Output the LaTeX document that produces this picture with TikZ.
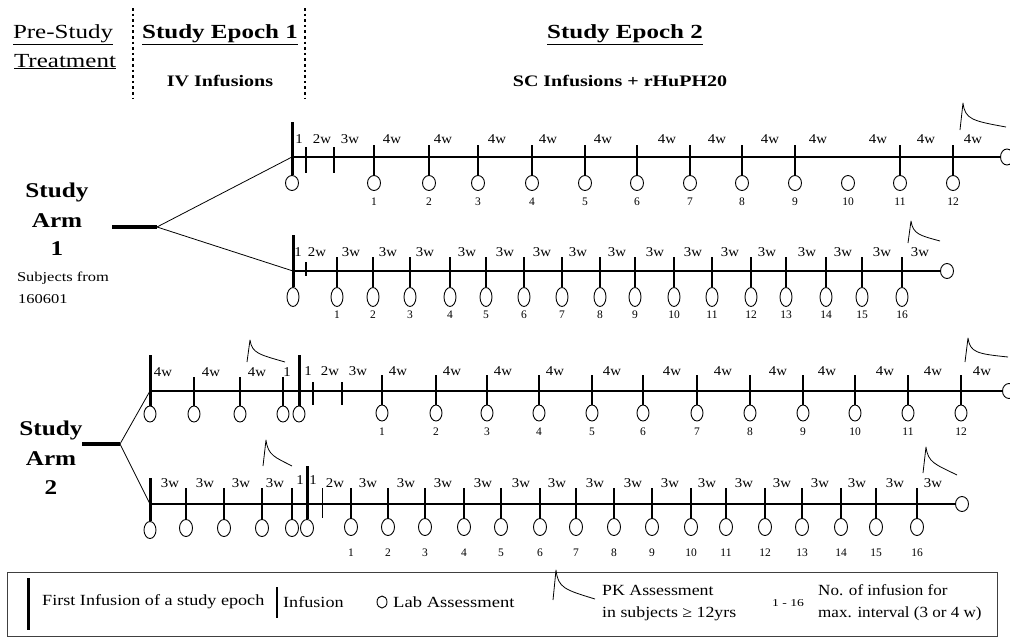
\documentclass[tikz,border=0pt]{standalone}
\usepackage{fontspec}
\usepackage{graphicx}
\setmainfont{Liberation Serif}
\usetikzlibrary{shapes.geometric}

% font size helper and horizontal widening of text
\newcommand{\setfs}[1]{\fontsize{#1}{#1}\selectfont}
\newcommand{\widen}[2][1.2]{\scalebox{#1}[1]{#2}}

% PK profile: foot (x,y), peak height h, tail end (xe,ye)
\newcommand{\pkcurve}[5]{%
  \draw[pk] (#1,#2) -- ({#1+3},{#2-#3})
    .. controls ({#1+5},{#2-0.4*#3}) and ({#1+12},{#2-0.34*#3}) .. (#4,#5);}

\tikzset{
  lab/.style={draw, ellipse, line width=0.9pt, inner sep=0pt,
              minimum width=12pt, minimum height=15pt},
  tick/.style={line width=1.2pt},
  firstinf/.style={line width=3pt},
  axis/.style={line width=2pt},
  thinaxis/.style={line width=1.1pt},
  branch/.style={line width=0.8pt},
  armbar/.style={line width=4.5pt},
  pk/.style={line width=0.8pt, line join=round},
  wk/.style={inner sep=0pt, font=\setfs{13.5}},
  num/.style={inner sep=0pt, font=\setfs{11.5}},
  epochsep/.style={line width=2.6pt, dash pattern=on 2.6pt off 3pt},
  head/.style={inner sep=0pt, anchor=base, font=\setfs{20}},
  subhead/.style={inner sep=0pt, anchor=base, font=\setfs{16}\bfseries},
  armtxt/.style={inner sep=0pt, anchor=base, font=\setfs{21}\bfseries},
  legtxt/.style={inner sep=0pt, anchor=west, font=\setfs{15.5}},
}

\begin{document}
\begin{tikzpicture}[x=1pt,y=-1pt]
\clip (0,0) rectangle (1010,637);
\fill[white] (0,0) rectangle (1010,637);

% ---------------- header ----------------
\node[head] (hpre) at (63,38) {\widen[1.25]{\underline{Pre-Study}}};
\node[head] (htreat) at (65,67) {\widen[1.25]{\underline{Treatment}}};
\node[head, font=\setfs{20}\bfseries] (hep1) at (220,38) {\widen[1.25]{\underline{Study Epoch 1}}};
\node[head, font=\setfs{20}\bfseries] (hep2) at (625,38) {\widen[1.25]{\underline{Study Epoch 2}}};
\node[subhead] (hiv) at (220,86) {\widen[1.25]{IV Infusions}};
\node[subhead] (hsc) at (620,86) {\widen[1.25]{SC Infusions + rHuPH20}};
\draw[epochsep] (133,8) -- (133,98);
\draw[epochsep] (305,8) -- (305,98);

% ---------------- Study Arm 1 ----------------
\node[armtxt] (a1l1) at (57,197) {\widen{Study}};
\node[armtxt] (a1l2) at (57,227) {\widen{Arm}};
\node[armtxt] (a1l3) at (57,255) {\widen{1}};
\node[inner sep=0pt, anchor=base, font=\setfs{13.5}] (a1s1) at (63,281) {\widen[1.22]{Subjects from}};
\node[inner sep=0pt, anchor=base west, font=\setfs{13.5}] (a1s2) at (18,303) {\widen[1.22]{160601}};
\coordinate (arm1a) at (112,227);
\coordinate (arm1) at (157,227);
\draw[armbar] (arm1a) -- (arm1);

% upper timeline (arm 1)
\coordinate (A-start) at (292,157);
\node[lab, minimum width=13pt, minimum height=16pt] (A-end) at (1007,157) {};
\draw[axis] (A-start) -- (A-end);
\draw[branch] (arm1) -- (A-start);
\coordinate (A-f) at (292,122);
\node[lab, minimum width=13pt] (A-c0) at (292,183) {};
\draw[firstinf] (A-f) -- (A-c0);
\foreach \x/\n in {306/a,334/b}{
  \coordinate (A-s\n t) at (\x,147);
  \coordinate (A-s\n b) at (\x,173);
  \draw[tick] (A-s\n t) -- (A-s\n b);
}
\node[wk] (A-l1) at (299,139) {\widen[1.1]{1}};
\node[wk] (A-l2) at (322,139) {\widen[1.1]{2w}};
\node[wk] (A-l3) at (350,139) {\widen[1.1]{3w}};
\foreach \x/\i in {374/1,429/2,478/3,532/4,585/5,637/6,690/7,742/8,795/9,900/11,953/12}{
  \coordinate (A-t\i) at (\x,145);
  \node[lab, minimum width=13pt] (A-c\i) at (\x,183) {};
  \draw[tick] (A-t\i) -- (A-c\i);
  \node[num] (A-n\i) at (\x,202) {\i};
}
\node[lab, minimum width=13pt] (A-c10) at (848,183) {};
\node[num] (A-n10) at (848,202) {10};
\foreach \x in {392,443,497,548,603,667,717,770,818,878,926,973}
  \node[wk] (A-w\x) at (\x,139) {\widen[1.1]{4w}};
\pkcurve{960}{130}{27}{1006}{127}

% lower timeline (arm 1)
\coordinate (B-start) at (293,271);
\node[lab, minimum width=13pt] (B-end) at (947,271) {};
\draw[axis] (B-start) -- (B-end);
\draw[branch] (arm1) -- (B-start);
\coordinate (B-f) at (293,235);
\node[lab, minimum height=19pt] (B-c0) at (293,297) {};
\draw[firstinf] (B-f) -- (B-c0);
\coordinate (B-sat) at (306,262);
\coordinate (B-sab) at (306,276);
\draw[tick, line width=1.6pt] (B-sat) -- (B-sab);
\node[wk] (B-l1) at (298,252) {\widen[1.1]{1}};
\node[wk] (B-l2) at (317,252) {\widen[1.1]{2w}};
\foreach \x/\i in {337/1,373/2,410/3,450/4,486/5,524/6,562/7,600/8,635/9,674/10,712/11,751/12,786/13,826/14,862/15,902/16}{
  \coordinate (B-t\i) at (\x,257);
  \node[lab, minimum height=19pt] (B-c\i) at (\x,297) {};
  \draw[tick] (B-t\i) -- (B-c\i);
  \node[num] (B-n\i) at (\x,315) {\i};
}
\foreach \x in {351,388,425,467,505,542,578,617,655,693,730,767,807,843,882,920}
  \node[wk] (B-w\x) at (\x,252) {\widen[1.1]{3w}};
\pkcurve{908}{243}{22}{940}{241}

% ---------------- Study Arm 2 ----------------
\node[armtxt] (a2l1) at (51,435) {\widen{Study}};
\node[armtxt] (a2l2) at (51,465) {\widen{Arm}};
\node[armtxt] (a2l3) at (51,494) {\widen{2}};
\coordinate (arm2a) at (82,444);
\coordinate (arm2) at (120,444);
\draw[armbar] (arm2a) -- (arm2);

% upper timeline (arm 2)
\coordinate (C-start) at (150,391);
\node[lab, minimum width=13pt] (C-end) at (1009,391) {};
\draw[axis] (C-start) -- (C-end);
\draw[branch] (arm2) -- (C-start);
\coordinate (C-f1) at (150,355);
\node[lab, minimum width=12pt, minimum height=16pt] (C-e0) at (150,414) {};
\draw[firstinf] (C-f1) -- (C-e0);
\foreach \x/\i in {194/1,240/2,283/3}{
  \coordinate (C-et\i) at (\x,377);
  \node[lab, minimum width=12pt, minimum height=16pt] (C-ec\i) at (\x,414) {};
  \draw[tick] (C-et\i) -- (C-ec\i);
}
\foreach \x in {163,211,257}
  \node[wk] (C-ew\x) at (\x,372) {\widen[1.1]{4w}};
\node[wk] (C-el1) at (287,372) {\widen[1.1]{1}};
\pkcurve{247}{362}{22}{285}{362}
\coordinate (C-f2) at (299,355);
\node[lab, minimum width=12pt, minimum height=16pt] (C-c0) at (299,414) {};
\draw[firstinf] (C-f2) -- (C-c0);
\foreach \x/\n in {313/a,342/b}{
  \coordinate (C-s\n t) at (\x,382);
  \coordinate (C-s\n b) at (\x,405);
  \draw[tick] (C-s\n t) -- (C-s\n b);
}
\node[wk] (C-l1) at (308,371) {\widen[1.1]{1}};
\node[wk] (C-l2) at (330,371) {\widen[1.1]{2w}};
\node[wk] (C-l3) at (358,371) {\widen[1.1]{3w}};
\foreach \x/\i in {382/1,436/2,487/3,539/4,592/5,643/6,697/7,750/8,803/9,855/10,908/11,961/12}{
  \coordinate (C-t\i) at (\x,375);
  \node[lab, minimum width=12pt, minimum height=16pt] (C-c\i) at (\x,413) {};
  \draw[tick] (C-t\i) -- (C-c\i);
  \node[num] (C-n\i) at (\x,432) {\i};
}
\foreach \x in {398,452,503,555,612,672,723,778,827,885,933,982}
  \node[wk] (C-w\x) at (\x,371) {\widen[1.1]{4w}};
\pkcurve{965}{362}{24}{1008}{357}

% lower timeline (arm 2)
\coordinate (D-start) at (150,504);
\node[lab, minimum width=13pt] (D-end) at (962,504) {};
\draw[thinaxis] (D-start) -- (D-end);
\draw[branch] (arm2) -- (D-start);
\coordinate (D-f1) at (150,478);
\node[lab, minimum width=12pt, minimum height=17pt] (D-e0) at (150,530) {};
\draw[firstinf] (D-f1) -- (D-e0);
\foreach \x/\i in {186/1,224/2,262/3,292/4}{
  \coordinate (D-et\i) at (\x,488);
  \node[lab, minimum width=13pt, minimum height=17pt] (D-ec\i) at (\x,528) {};
  \draw[tick] (D-et\i) -- (D-ec\i);
}
\foreach \x in {170,205,241,275}
  \node[wk] (D-ew\x) at (\x,483) {\widen[1.1]{3w}};
\node[wk] (D-el1) at (300,480) {\widen[1.1]{1}};
\pkcurve{263}{466}{26}{292}{466}
\coordinate (D-f2) at (307,466);
\node[lab, minimum width=13pt, minimum height=17pt] (D-c0) at (307,528) {};
\draw[firstinf] (D-f2) -- (D-c0);
\coordinate (D-sat) at (322,488);
\coordinate (D-sab) at (322,518);
\draw[tick, line width=0.9pt] (D-sat) -- (D-sab);
\node[wk] (D-l1) at (313,480) {\widen[1.1]{1}};
\node[wk] (D-l2) at (335,483) {\widen[1.1]{2w}};
\foreach \x/\i in {351/1,388/2,425/3,464/4,501/5,540/6,576/7,614/8,652/9,691/10,726/11,765/12,802/13,841/14,876/15,917/16}{
  \coordinate (D-t\i) at (\x,488);
  \node[lab, minimum width=13pt, minimum height=17pt] (D-c\i) at (\x,527) {};
  \draw[tick] (D-t\i) -- (D-c\i);
  \node[num] (D-n\i) at (\x,553) {\i};
}
\foreach \x in {368,406,443,483,521,557,595,633,670,707,744,782,820,857,895,933}
  \node[wk] (D-w\x) at (\x,483) {\widen[1.1]{3w}};
\pkcurve{923}{473}{26}{957}{475}

% ---------------- legend ----------------
\draw[line width=1pt, black!75] (7,572) rectangle (997,636);
\coordinate (L-f1) at (28,578);
\coordinate (L-f2) at (28,630);
\draw[firstinf] (L-f1) -- (L-f2);
\node[legtxt] (L-t1) at (42,602) {\widen[1.17]{First Infusion of a study epoch}};
\coordinate (L-i1) at (277,587);
\coordinate (L-i2) at (277,618);
\draw[tick] (L-i1) -- (L-i2);
\node[legtxt] (L-t2) at (283,602) {\widen[1.17]{Infusion}};
\node[lab, minimum width=10pt, minimum height=12pt] (L-c) at (382,602) {};
\node[legtxt] (L-t3) at (393,602) {\widen[1.2]{Lab Assessment}};
\pkcurve{553}{600}{30}{595}{599}
\node[legtxt] (L-t4) at (602,590) {\widen[1.15]{PK Assessment}};
\node[legtxt] (L-t5) at (602,614) {\widen[1.15]{in subjects ≥ 12yrs}};
\node[inner sep=0pt, font=\setfs{10.5}] (L-t6) at (788,603) {\widen[1.3]{1 - 16}};
\node[legtxt] (L-t7) at (818,590) {\widen[1.1]{No. of infusion for}};
\node[legtxt] (L-t8) at (818,614) {\widen[1.1]{max. interval (3 or 4 w)}};
\end{tikzpicture}
\end{document}
